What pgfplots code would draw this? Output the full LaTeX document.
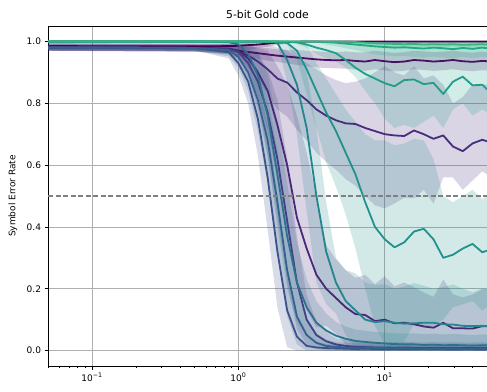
\documentclass[border=0pt]{standalone}
\usepackage{fontspec}
\setmainfont{DejaVu Sans}
\usepackage{pgfplots}
\usepackage{pgfplotstable}
\pgfplotsset{compat=1.18}
\usepgfplotslibrary{fillbetween}

\definecolor{cA}{HTML}{440154}
\definecolor{cD}{HTML}{471063}
\definecolor{cF}{HTML}{472D7B}
\definecolor{cM}{HTML}{482878}
\definecolor{cL}{HTML}{424086}
\definecolor{cI}{HTML}{3B528B}
\definecolor{cJ}{HTML}{33638D}
\definecolor{cK}{HTML}{2C728E}
\definecolor{cH}{HTML}{25858E}
\definecolor{cG}{HTML}{21918C}
\definecolor{cE}{HTML}{1F9E89}
\definecolor{cC}{HTML}{22A884}
\definecolor{cB}{HTML}{35B779}
\definecolor{gridgray}{HTML}{B0B0B0}
\definecolor{refgray}{HTML}{808080}

% mean (m) and band limits (lo, hi) of the symbol error rate per configuration
\pgfplotstableread{
x m lo hi
0.05 0.985 0.970 1
0.5 0.984 0.969 0.999
0.858 0.985 0.970 1
1.0 0.986 0.971 1
1.166 0.988 0.974 1
1.359 0.990 0.978 1
1.585 0.993 0.983 1
1.848 0.996 0.988 1
2.154 0.998 0.993 1
2.512 0.999 0.995 1
2.929 1 0.996 1
50 1 0.996 1
}\tblA

\pgfplotstableread{
x m lo hi
0.05 1 0.998 1
5.412 1 0.998 1
6.310 0.998 0.992 1
7.356 0.996 0.988 1
8.577 0.994 0.985 1
10 0.993 0.984 1
11.66 0.992 0.982 1
13.59 0.991 0.982 1
15.85 0.992 0.983 1
18.48 0.990 0.980 1
21.54 0.991 0.981 1
25.12 0.990 0.980 1
29.29 0.991 0.982 1
34.15 0.989 0.979 1
39.81 0.990 0.980 1
46.42 0.991 0.981 1
50 0.990 0.980 1
}\tblB

\pgfplotstableread{
x m lo hi
0.05 1 0.998 1
3.415 1 0.997 1
3.981 0.998 0.990 1
4.642 0.996 0.985 1
5.412 0.993 0.978 1
6.310 0.990 0.972 1
7.356 0.987 0.965 1
8.577 0.984 0.958 1
10 0.982 0.955 1
11.66 0.980 0.952 1
13.59 0.981 0.953 1
15.85 0.979 0.950 1
18.48 0.977 0.948 1
21.54 0.980 0.951 1
25.12 0.978 0.948 1
29.29 0.975 0.945 1
34.15 0.979 0.950 1
39.81 0.976 0.946 1
46.42 0.980 0.950 1
50 0.978 0.948 1
}\tblC

\pgfplotstableread{
x m lo hi
0.05 0.982 0.970 0.994
0.2 0.980 0.968 0.992
0.5 0.979 0.967 0.991
0.858 0.975 0.961 0.989
1.0 0.970 0.955 0.985
1.166 0.966 0.950 0.982
1.359 0.962 0.944 0.980
1.585 0.958 0.938 0.978
1.848 0.954 0.934 0.974
2.154 0.951 0.929 0.973
2.512 0.948 0.924 0.972
2.929 0.945 0.920 0.970
3.415 0.942 0.916 0.968
3.981 0.940 0.914 0.966
4.642 0.939 0.913 0.965
5.412 0.940 0.912 0.968
6.310 0.937 0.909 0.965
7.356 0.935 0.905 0.965
8.577 0.940 0.910 0.970
10 0.936 0.906 0.966
11.66 0.933 0.903 0.963
13.59 0.935 0.905 0.965
15.85 0.940 0.910 0.970
18.48 0.938 0.908 0.968
21.54 0.935 0.905 0.965
25.12 0.937 0.907 0.967
29.29 0.940 0.910 0.970
34.15 0.936 0.906 0.966
39.81 0.934 0.904 0.964
46.42 0.937 0.907 0.967
50 0.936 0.906 0.966
}\tblD

\pgfplotstableread{
x m lo hi
0.05 1 0.998 1
2.154 1 0.998 1
2.512 0.997 0.992 1
2.929 0.990 0.980 1
3.415 0.980 0.960 1
3.981 0.972 0.945 1
4.642 0.962 0.935 1
5.412 0.940 0.915 1
6.310 0.915 0.885 1
7.356 0.895 0.840 1
8.577 0.880 0.800 1
10 0.865 0.750 1
11.66 0.855 0.720 1
13.59 0.875 0.730 1
15.85 0.877 0.720 1
18.48 0.862 0.740 1
21.54 0.866 0.760 1
25.12 0.830 0.720 1
29.29 0.870 0.780 1
34.15 0.886 0.800 1
39.81 0.858 0.760 1
46.42 0.860 0.780 1
50 0.845 0.770 1
}\tblE

\pgfplotstableread{
x m lo hi
0.05 0.982 0.970 0.994
0.2 0.980 0.968 0.992
0.5 0.979 0.967 0.991
0.858 0.975 0.958 0.992
1.0 0.968 0.945 0.991
1.166 0.955 0.915 0.993
1.359 0.935 0.875 0.993
1.585 0.910 0.830 0.990
1.848 0.880 0.780 0.980
2.154 0.867 0.757 0.970
2.512 0.835 0.715 0.950
2.929 0.810 0.680 0.930
3.415 0.780 0.640 0.910
3.981 0.760 0.610 0.890
4.642 0.745 0.585 0.875
5.412 0.735 0.555 0.865
6.310 0.733 0.533 0.870
7.356 0.720 0.500 0.880
8.577 0.710 0.470 0.900
10 0.700 0.460 0.920
11.66 0.696 0.476 0.900
13.59 0.694 0.494 0.890
15.85 0.712 0.492 0.920
18.48 0.700 0.520 0.880
21.54 0.685 0.475 0.890
25.12 0.696 0.560 0.860
29.29 0.660 0.560 0.800
34.15 0.645 0.520 0.820
39.81 0.670 0.550 0.860
46.42 0.682 0.580 0.860
50 0.677 0.570 0.860
}\tblF

\pgfplotstableread{
x m lo hi
0.05 1 0.998 1
1.848 1 0.998 1
2.154 0.995 0.990 1
2.512 0.970 0.940 1
2.929 0.910 0.830 0.990
3.415 0.840 0.720 0.930
3.981 0.770 0.610 0.880
4.642 0.710 0.530 0.830
5.412 0.640 0.440 0.780
6.310 0.570 0.330 0.740
7.356 0.480 0.200 0.700
8.577 0.400 0.080 0.680
10 0.360 0.020 0.680
11.66 0.334 0.004 0.664
13.59 0.350 0.030 0.670
15.85 0.385 0.085 0.685
18.48 0.394 0.074 0.680
21.54 0.360 0.080 0.620
25.12 0.300 0.100 0.500
29.29 0.310 0.140 0.480
34.15 0.330 0.150 0.500
39.81 0.345 0.160 0.520
46.42 0.318 0.130 0.490
50 0.323 0.140 0.500
}\tblG

\pgfplotstableread{
x m lo hi
0.05 1 0.998 1
1.585 1 0.998 1
1.848 0.995 0.990 1
2.154 0.940 0.870 0.990
2.512 0.860 0.700 0.960
2.929 0.720 0.450 0.900
3.415 0.500 0.220 0.720
3.981 0.320 0.150 0.480
4.642 0.220 0.120 0.300
5.412 0.160 0.050 0.260
6.310 0.130 0.010 0.250
7.356 0.100 0 0.220
8.577 0.092 0 0.212
10 0.095 0 0.215
11.66 0.090 0 0.200
13.59 0.087 0 0.207
15.85 0.088 0 0.218
18.48 0.090 0 0.210
21.54 0.090 0 0.200
25.12 0.085 0 0.205
29.29 0.084 0 0.214
34.15 0.080 0 0.200
39.81 0.079 0 0.189
46.42 0.080 0 0.200
50 0.079 0 0.199
}\tblH

\pgfplotstableread{
x m lo hi
0.05 0.980 0.972 0.988
0.2 0.980 0.972 0.988
0.5 0.979 0.971 0.987
0.858 0.965 0.945 0.985
1.0 0.930 0.890 0.970
1.166 0.870 0.800 0.940
1.359 0.750 0.630 0.870
1.585 0.560 0.390 0.730
1.848 0.320 0.140 0.500
2.154 0.130 0.010 0.250
2.512 0.045 0 0.105
2.929 0.015 0 0.045
3.415 0.010 0 0.027
3.981 0.008 0 0.022
4.642 0.007 0 0.020
5.412 0.006 0 0.018
6.310 0.005 0 0.017
7.356 0.006 0 0.018
8.577 0.005 0 0.017
10 0.004 0 0.016
11.66 0.005 0 0.017
13.59 0.004 0 0.016
15.85 0.004 0 0.016
18.48 0.005 0 0.017
21.54 0.004 0 0.016
25.12 0.004 0 0.016
29.29 0.003 0 0.015
34.15 0.004 0 0.016
39.81 0.004 0 0.016
46.42 0.003 0 0.015
50 0.004 0 0.016
}\tblI

\pgfplotstableread{
x m lo hi
0.05 0.980 0.972 0.988
0.2 0.980 0.972 0.988
0.5 0.979 0.971 0.987
0.858 0.972 0.952 0.992
1.0 0.950 0.915 0.985
1.166 0.900 0.840 0.960
1.359 0.810 0.710 0.910
1.585 0.680 0.540 0.820
1.848 0.480 0.310 0.650
2.154 0.260 0.110 0.410
2.512 0.110 0.020 0.200
2.929 0.050 0 0.100
3.415 0.025 0 0.055
3.981 0.015 0 0.035
4.642 0.012 0 0.027
5.412 0.010 0 0.025
6.310 0.009 0 0.024
7.356 0.010 0 0.025
8.577 0.008 0 0.023
10 0.008 0 0.023
11.66 0.007 0 0.022
13.59 0.008 0 0.023
15.85 0.007 0 0.022
18.48 0.006 0 0.021
21.54 0.007 0 0.022
25.12 0.006 0 0.021
29.29 0.007 0 0.022
34.15 0.006 0 0.021
39.81 0.006 0 0.021
46.42 0.007 0 0.022
50 0.006 0 0.021
}\tblJ

\pgfplotstableread{
x m lo hi
0.05 1 0.996 1
0.5 1 0.996 1
0.858 0.998 0.994 1
1.0 0.990 0.975 1
1.166 0.960 0.920 1
1.359 0.890 0.810 0.970
1.585 0.760 0.630 0.890
1.848 0.570 0.400 0.740
2.154 0.370 0.200 0.540
2.512 0.220 0.090 0.350
2.929 0.140 0.050 0.230
3.415 0.090 0.020 0.160
3.981 0.065 0.010 0.120
4.642 0.048 0.003 0.093
5.412 0.038 0 0.078
6.310 0.031 0 0.068
7.356 0.028 0 0.064
8.577 0.025 0 0.060
10 0.023 0 0.058
11.66 0.021 0 0.056
13.59 0.020 0 0.055
15.85 0.020 0 0.056
18.48 0.018 0 0.053
21.54 0.019 0 0.055
25.12 0.017 0 0.052
29.29 0.018 0 0.054
34.15 0.017 0 0.052
39.81 0.016 0 0.050
46.42 0.017 0 0.052
50 0.017 0 0.052
}\tblK

\pgfplotstableread{
x m lo hi
0.05 0.980 0.970 0.990
0.2 0.980 0.970 0.990
0.5 0.979 0.969 0.989
0.858 0.975 0.960 0.990
1.0 0.965 0.940 0.990
1.166 0.930 0.880 0.980
1.359 0.870 0.780 0.960
1.585 0.770 0.630 0.910
1.848 0.620 0.430 0.810
2.154 0.420 0.220 0.620
2.512 0.220 0.070 0.370
2.929 0.100 0.020 0.180
3.415 0.050 0.005 0.095
3.981 0.030 0 0.060
4.642 0.020 0 0.040
5.412 0.015 0 0.033
6.310 0.012 0 0.030
7.356 0.011 0 0.029
8.577 0.010 0 0.028
10 0.010 0 0.028
11.66 0.009 0 0.027
13.59 0.010 0 0.028
15.85 0.009 0 0.027
18.48 0.008 0 0.026
21.54 0.009 0 0.027
25.12 0.008 0 0.026
29.29 0.009 0 0.027
34.15 0.008 0 0.026
39.81 0.008 0 0.026
46.42 0.009 0 0.027
50 0.008 0 0.026
}\tblL

\pgfplotstableread{
x m lo hi
0.05 0.980 0.970 0.990
0.2 0.979 0.969 0.989
0.5 0.978 0.968 0.988
0.858 0.977 0.965 0.989
1.0 0.970 0.950 0.990
1.166 0.945 0.905 0.985
1.359 0.900 0.820 0.980
1.585 0.840 0.710 0.970
1.848 0.730 0.550 0.920
2.154 0.600 0.390 0.860
2.512 0.430 0.210 0.760
2.929 0.330 0.130 0.640
3.415 0.245 0.075 0.500
3.981 0.200 0.080 0.340
4.642 0.170 0.055 0.295
5.412 0.140 0.020 0.260
6.310 0.118 0 0.235
7.356 0.115 0 0.245
8.577 0.095 0 0.215
10 0.100 0 0.240
11.66 0.088 0 0.208
13.59 0.090 0 0.220
15.85 0.085 0 0.205
18.48 0.078 0 0.188
21.54 0.074 0 0.174
25.12 0.090 0 0.230
29.29 0.072 0 0.182
34.15 0.072 0 0.172
39.81 0.071 0 0.181
46.42 0.079 0 0.199
50 0.079 0 0.199
}\tblM

% band + mean line for one configuration: #1 name, #2 table, #3 colour
\newcommand\series[3]{%
  \addplot[draw=none, name path=#1hi] table[x=x, y=hi] {#2};
  \addplot[draw=none, name path=#1lo] table[x=x, y=lo] {#2};
  \addplot[fill=#3, fill opacity=0.2, draw=none] fill between[of=#1hi and #1lo];
  \addplot[#3, line width=1.8bp, line join=round] table[x=x, y=m] {#2};
}

\begin{document}
\begin{tikzpicture}
\begin{axis}[
  name=ax,
  scale only axis,
  width=439bp, height=340bp,
  xmode=log,
  xmin=0.05, xmax=50,
  ymin=-0.05, ymax=1.05,
  xtick={0.1,1,10},
  xticklabels={10\textsuperscript{−1},10\textsuperscript{0},10\textsuperscript{1}},
  minor xtick={0.05,0.06,0.07,0.08,0.09,0.2,0.3,0.4,0.5,0.6,0.7,0.8,0.9,2,3,4,5,6,7,8,9,20,30,40,50},
  ytick={0,0.2,0.4,0.6,0.8,1},
  yticklabels={0.0,0.2,0.4,0.6,0.8,1.0},
  grid=major,
  major grid style={line width=0.8bp, draw=gridgray},
  tick align=outside,
  tick pos=left,
  major tick length=3.5bp,
  minor tick length=2bp,
  every tick/.append style={black, line width=0.8bp},
  axis line style={line width=0.8bp, black},
  ticklabel style={font=\fontsize{9bp}{10bp}\selectfont},
  title={5-bit Gold code},
  title style={font=\fontsize{10.8bp}{12bp}\selectfont, at={(axis description cs:0.5,1)}, anchor=base, yshift=2bp},
  ylabel={Symbol Error Rate},
  ylabel style={font=\fontsize{9bp}{10bp}\selectfont, at={(axis description cs:-0.0797,0.5)}, anchor=center},
]
\series{A}{\tblA}{cA}
\series{D}{\tblD}{cD}
\series{F}{\tblF}{cF}
\series{M}{\tblM}{cM}
\series{L}{\tblL}{cL}
\series{I}{\tblI}{cI}
\series{J}{\tblJ}{cJ}
\series{K}{\tblK}{cK}
\series{H}{\tblH}{cH}
\series{G}{\tblG}{cG}
\series{E}{\tblE}{cE}
\series{C}{\tblC}{cC}
\series{B}{\tblB}{cB}
% chance-level reference
\addplot[refgray, line width=1.3bp, dash pattern=on 5bp off 2.5bp] coordinates {(0.05,0.5) (50,0.5)};
\end{axis}
\pgfresetboundingbox
\path[use as bounding box] (ax.south west) ++(-48bp,-26bp) rectangle ++(487bp,392bp);
\end{tikzpicture}
\end{document}
